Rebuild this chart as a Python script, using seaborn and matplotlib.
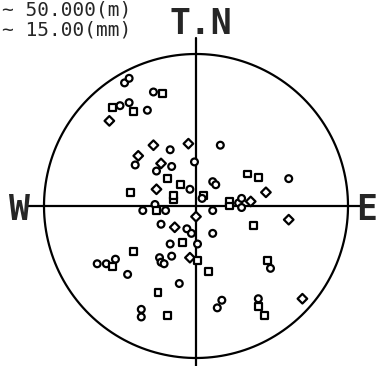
import matplotlib
matplotlib.use("Agg")
import matplotlib.pyplot as plt
import numpy as np
import pandas as pd
import seaborn as sns

sns.set_theme(style="white")
plt.rcParams["font.family"] = ["DejaVu Sans Mono", "DejaVu Sans"]

# pole positions inside the unit net (east, north)
east = [-0.47, -0.44, -0.28, -0.22, -0.55, -0.50, -0.44, -0.41, -0.32, -0.57,
        -0.28, -0.17, -0.05, -0.38, -0.40, -0.23, -0.16, -0.26, -0.19, -0.01,
        -0.43, -0.26, -0.10, -0.04, -0.15, -0.15, -0.35, -0.27, -0.26, -0.20,
        -0.23, -0.14, -0.06, 0.00, 0.16, 0.11, 0.13, 0.34, 0.41, 0.61,
        0.46, 0.05, 0.04, 0.22, 0.22, 0.28, 0.30, 0.36, 0.30, 0.11,
        0.38, 0.61, -0.03, -0.17, -0.09, 0.01, -0.41, -0.65, -0.59, -0.53,
        -0.55, -0.45, -0.24, -0.23, -0.21, -0.16, -0.04, 0.01, -0.11, -0.25,
        -0.36, -0.36, -0.19, 0.11, 0.08, 0.47, 0.49, 0.17, 0.14, 0.41,
        0.41, 0.45, 0.70]
north = [0.81, 0.84, 0.75, 0.74, 0.65, 0.66, 0.68, 0.62, 0.63, 0.56,
         0.40, 0.37, 0.41, 0.33, 0.27, 0.28, 0.26, 0.23, 0.18, 0.29,
         0.09, 0.11, 0.14, 0.11, 0.04, 0.07, -0.03, 0.01, -0.03, -0.03,
         -0.12, -0.14, -0.15, -0.07, 0.40, 0.16, 0.14, 0.21, 0.19, 0.18,
         0.09, 0.07, 0.05, 0.03, 0.00, 0.02, 0.05, 0.03, -0.01, -0.03,
         -0.13, -0.09, -0.18, -0.25, -0.24, -0.25, -0.30, -0.38, -0.38, -0.35,
         -0.40, -0.45, -0.34, -0.37, -0.38, -0.33, -0.34, -0.36, -0.51, -0.57,
         -0.68, -0.73, -0.72, -0.18, -0.43, -0.36, -0.41, -0.62, -0.67, -0.61,
         -0.66, -0.72, -0.61]
kind = ["o", "o", "o", "s", "s", "o", "o", "s", "o", "d",
        "d", "o", "d", "d", "o", "d", "o", "o", "s", "o",
        "s", "d", "s", "o", "s", "s", "o", "o", "s", "o",
        "o", "d", "o", "d", "o", "o", "o", "s", "s", "o",
        "d", "s", "o", "s", "s", "o", "o", "d", "o", "o",
        "s", "d", "o", "o", "s", "o", "s", "o", "o", "o",
        "s", "o", "o", "o", "o", "o", "d", "s", "o", "s",
        "o", "o", "s", "o", "s", "s", "o", "o", "o", "o",
        "s", "s", "d"]

depth_text = ["~ 50.000(m)", "~ 15.00(mm)"]
directions = ["T.N", "W", "E"]

df = pd.DataFrame({"east": east, "north": north, "kind": kind})

W, H, cx, cy, r = 378, 366, 196, 206, 152
fig = plt.figure(figsize=(W / 100, H / 100), dpi=100)
ax = fig.add_axes([0, 0, 1, 1])
ax.set_xlim(-cx / r, (W - cx) / r)
ax.set_ylim((cy - H) / r, cy / r)
ax.axis("off")

t = np.linspace(0, 2 * np.pi, 400)
ax.plot(np.cos(t), np.sin(t), color="black", lw=1.6)
ax.plot([(28 - cx) / r, (365 - cx) / r], [0, 0], color="black", lw=1.6)
ax.plot([0, 0], [(cy - 38) / r, (cy - H) / r], color="black", lw=1.6)

sns.scatterplot(data=df, x="east", y="north", style="kind",
                markers={"o": "o", "s": "s", "d": "D"}, s=24,
                color="white", edgecolor="black", linewidth=1.6,
                legend=False, ax=ax, zorder=3)

px = lambda x: (x - cx) / r
py = lambda y: (cy - y) / r
ax.text(px(201), py(34), directions[0], fontsize=25, fontweight="bold",
        ha="center", va="baseline")
ax.text(px(19), py(220), directions[1], fontsize=25, fontweight="bold",
        ha="center", va="baseline")
ax.text(px(377), py(220), directions[2], fontsize=25, fontweight="bold",
        ha="right", va="baseline")
ax.text(px(2), py(16), depth_text[0], fontsize=14, ha="left", va="baseline")
ax.text(px(2), py(35), depth_text[1], fontsize=14, ha="left", va="baseline")

fig.savefig("out.png", dpi=100)
